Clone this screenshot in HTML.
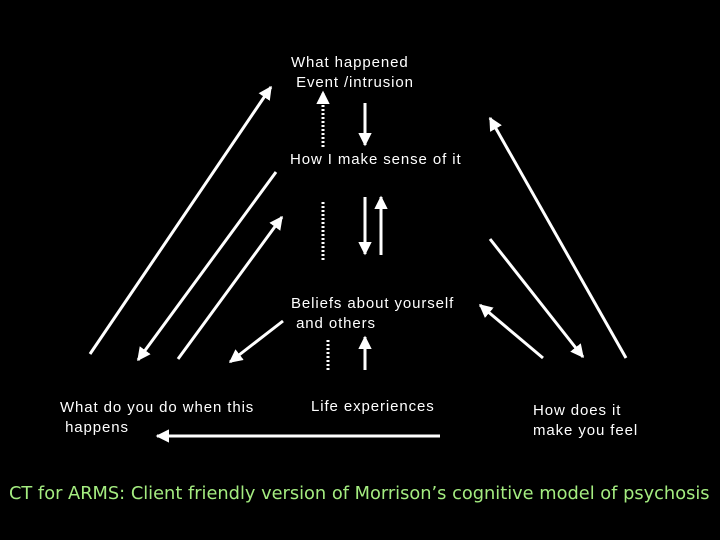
<!DOCTYPE html>
<html><head><style>
body{margin:0;background:#000;width:720px;height:540px;overflow:hidden;position:relative;font-family:"Liberation Sans",sans-serif;color:#fff}
.t{position:absolute;font-size:15px;line-height:20px;white-space:nowrap;letter-spacing:0.9px;transform-origin:0 0}
</style></head><body>
<svg width="720" height="540" style="position:absolute;left:0;top:0">
<defs><marker id="a" viewBox="0 0 10 10" refX="9" refY="5" markerWidth="4.5" markerHeight="4.5" orient="auto" markerUnits="strokeWidth"><path d="M0,0L10,5L0,10z" fill="#fff"/></marker></defs>
<g stroke="#fff" stroke-width="3" fill="none" marker-end="url(#a)">
<line x1="323" y1="147" x2="323" y2="92" stroke-dasharray="2,2"/>
<line x1="365" y1="103" x2="365" y2="145"/>
<line x1="365" y1="197" x2="365" y2="254"/>
<line x1="381" y1="255" x2="381" y2="197"/>
<line x1="365" y1="370" x2="365" y2="337"/>
<line x1="90" y1="354" x2="271" y2="87"/>
<line x1="276" y1="172" x2="138" y2="360"/>
<line x1="178" y1="359" x2="282" y2="217"/>
<line x1="283" y1="321" x2="230" y2="362"/>
<line x1="626" y1="358" x2="490" y2="118"/>
<line x1="490" y1="239" x2="583" y2="357"/>
<line x1="543" y1="358" x2="480" y2="305"/>
<line x1="440" y1="436" x2="157" y2="436"/>
</g>
<g stroke="#fff" stroke-width="3" stroke-dasharray="2,2">
<line x1="323" y1="202" x2="323" y2="260"/>
<line x1="328" y1="340" x2="328" y2="372"/>
</g>
</svg>
<div class="t" style="left:291px;top:53px">What happened<br>&nbsp;Event /intrusion</div>
<div class="t" style="left:290px;top:150px">How I make sense of it</div>
<div class="t" style="left:291px;top:294px">Beliefs about yourself<br>&nbsp;and others</div>
<div class="t" style="left:60px;top:398px">What do you do when this<br>&nbsp;happens</div>
<div class="t" style="left:311px;top:397px">Life experiences</div>
<div class="t" style="left:533px;top:401px">How does it<br>make you feel</div>
<div class="t" style="left:9px;top:484px;font-family:'DejaVu Sans',sans-serif;font-size:17.8px;letter-spacing:0;color:#a4ec80;">CT for ARMS: Client friendly version of Morrison’s cognitive model of psychosis</div>
</body></html>
